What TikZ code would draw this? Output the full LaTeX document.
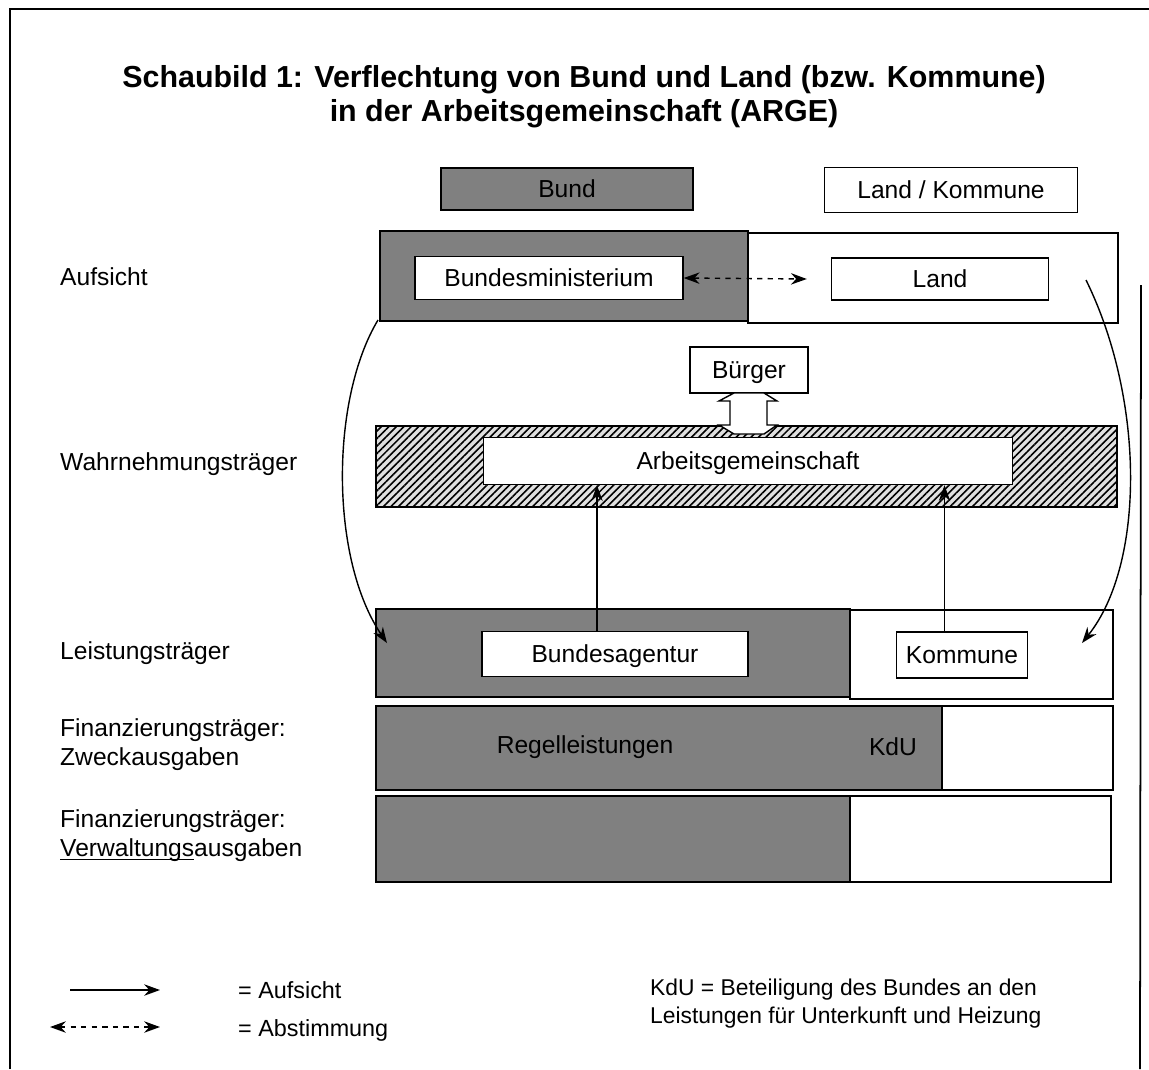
\documentclass[tikz,border=0pt]{standalone}
\usepackage{fontspec}
\setmainfont{Liberation Sans}
\usetikzlibrary{arrows.meta,patterns.meta}
\newcommand{\unterstrich}[1]{\underline{\smash{#1}}}

\begin{document}
\begin{tikzpicture}[x=0.2mm,y=-0.2mm,>={Stealth[length=9pt,width=6.5pt]},
	font=\fontsize{14}{16.5}\selectfont,
	kasten/.style={draw,fill=white,line width=0.8pt,inner sep=0pt,text height=10.5pt,text depth=0.4pt},
	grau/.style={fill=black!50},
	rahmen/.style={draw,line width=0.8pt},
	zeile/.style={anchor=west,align=left}]
			\useasboundingbox (0,0) rectangle (1149,1069);
			
			% Rahmen
			\draw[line width=1pt] (10,1069) to (10,9) to (1149,9);
			\draw[line width=1pt] (1141,285) to (1140,1069);
			
			% Titel
			\node[align=center,font=\bfseries\fontsize{17.3}{19.5}\selectfont] (Titel) at (584,97)
				{Schaubild 1: Verflechtung von Bund und Land (bzw. Kommune)\\in der Arbeitsgemeinschaft (ARGE)};
			
			% Spaltenkoepfe
			\node[kasten,grau,minimum width=50.4mm,minimum height=8.4mm] (Bund) at (567,189) {Bund};
			\node[kasten,minimum width=50.6mm,minimum height=9mm] (Land-Kommune) at (951,190) {Land / Kommune};
			
			% Zeilen zeichnen
			\fill[grau] (380,231) rectangle (748,321);
			\draw[rahmen] (380,231) rectangle (748,321);
			\draw[rahmen] (748,233) rectangle (1118,323);
			
			\fill[black!12] (376,426) rectangle (1117,507);
			\fill[pattern={Lines[angle=45,distance=3pt,line width=0.9pt]}] (376,426) rectangle (1117,507);
			\draw[rahmen] (376,426) rectangle (1117,507);
			
			\fill[grau] (376,609) rectangle (850,697);
			\draw[rahmen] (376,609) rectangle (850,697);
			\draw[rahmen] (850,610) rectangle (1113,699);
			
			\fill[grau] (376,706) rectangle (942,790);
			\draw[rahmen] (376,706) rectangle (942,790);
			\draw[rahmen] (942,706) rectangle (1113,790);
			
			\fill[grau] (376,796) rectangle (850,882);
			\draw[rahmen] (376,796) rectangle (850,882);
			\draw[rahmen] (850,796) rectangle (1111,882);
			
			% Zeilenbeschriftungen
			\node[zeile] (Aufsicht) at (54,277) {Aufsicht};
			\node[zeile] (Wahrnehmung) at (54,464) {Wahrnehmungsträger};
			\node[zeile] (Leistung) at (54,653) {Leistungsträger};
			\node[zeile] (Zweck) at (54,745) {Finanzierungsträger:\\Zweckausgaben};
			\node[zeile] (Verwaltung) at (54,836) {Finanzierungsträger:\\\unterstrich{Verwaltungs}ausgaben};
			
			% Kaesten
			\node[kasten,minimum width=53.6mm,minimum height=8.6mm] (Bundesministerium) at (549,278) {Bundesministerium};
			\node[kasten,minimum width=43.4mm,minimum height=8.4mm] (Land) at (940,279) {Land};
			\node[kasten,minimum width=23.6mm,minimum height=9.2mm] (Buerger) at (749,370) {Bürger};
			\node[kasten,minimum width=105.8mm,minimum height=9.4mm] (ARGE) at (748,461) {Arbeitsgemeinschaft};
			\node[kasten,minimum width=53.2mm,minimum height=9mm] (Bundesagentur) at (615,654) {Bundesagentur};
			\node[kasten,minimum width=26.2mm,minimum height=9.2mm] (Kommune) at (962,655) {Kommune};
			\node (Regel) at (585,747) {Regelleistungen};
			\node (KdU) at (893,747) {KdU};
			
			% Doppelpfeil Buerger
			\draw[line width=0.8pt,fill=white] (730,401) -- (719,401) -- (734,393) -- (764,393) -- (777,401)
				-- (767,401) -- (767,425) -- (777,425) -- (764,434) -- (734,434) -- (719,425) -- (730,425) -- cycle;
			
			% Pfeile
			\draw[<->,dashed,line width=0.8pt] (Bundesministerium.east) to ([xshift=-4.8mm]Land.west);
			\draw[->,line width=0.8pt] ([xshift=-3.6mm]Bundesagentur.north) to ([xshift=-3.6mm]Bundesagentur.north |- ARGE.south);
			\draw[->,line width=0.8pt] ([xshift=-3.5mm]Kommune.north) to ([xshift=-3.5mm]Kommune.north |- ARGE.south);
			
			\coordinate (Bund-oben) at (378,320);
			\coordinate (Bund-unten) at (387,643);
			\coordinate (Land-oben) at (1086,280);
			\coordinate (Land-unten) at (1082,643);
			\draw[->,line width=0.8pt] (Bund-oben) .. controls (330,400) and (330,559) .. (Bund-unten);
			\draw[->,line width=0.8pt] (Land-oben) .. controls (1145,400) and (1145,564) .. (Land-unten);
			
			% Legende
			\coordinate (Leg-A1) at (70,990);
			\coordinate (Leg-A2) at (160,990);
			\coordinate (Leg-B1) at (50,1027);
			\coordinate (Leg-B2) at (160,1027);
			\draw[->,line width=0.8pt] (Leg-A1) to (Leg-A2);
			\draw[<->,dashed,line width=0.8pt] (Leg-B1) to (Leg-B2);
			\node[zeile,font=\fontsize{13.3}{16}\selectfont] (Leg-Aufsicht) at (232,990) {= Aufsicht};
			\node[zeile,font=\fontsize{13.3}{16}\selectfont] (Leg-Abstimmung) at (232,1030) {= Abstimmung};
			\node[zeile,font=\fontsize{13}{16}\selectfont] (Leg-KdU) at (644,1004) {KdU = Beteiligung des Bundes an den\\Leistungen für Unterkunft und Heizung};
	\end{tikzpicture}
\end{document}
